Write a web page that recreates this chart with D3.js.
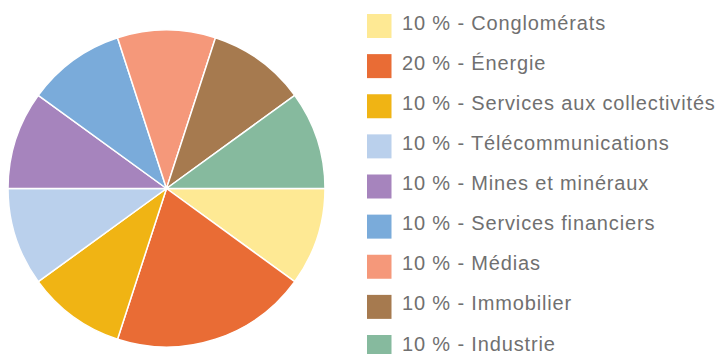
<!DOCTYPE html>
<html>
<head>
<meta charset="utf-8">
<script src="https://cdn.jsdelivr.net/npm/d3@7"></script>
<style>
  html, body { margin: 0; padding: 0; background: #fff; }
  svg { display: block; }
</style>
</head>
<body>
<svg id="chart" width="718" height="354"></svg>
<script>
// Répartition par secteur
const sectors = [
  "Conglomérats",
  "Énergie",
  "Services aux collectivités",
  "Télécommunications",
  "Mines et minéraux",
  "Services financiers",
  "Médias",
  "Immobilier",
  "Industrie"
];
const shares = [10, 20, 10, 10, 10, 10, 10, 10, 10];
const palette = [
  "#fee994", "#e96c35", "#f0b414", "#bad0ec", "#a684bd",
  "#7aabda", "#f5987a", "#a67a4f", "#86ba9e"
];

const data = sectors.map((name, i) => ({ name, value: shares[i], color: palette[i] }));

const svg = d3.select("#chart");

const cx = 166.5, cy = 188.5, radius = 158.5;

const pie = d3.pie()
  .value(d => d.value)
  .sort(null)
  .startAngle(Math.PI / 2)
  .endAngle(Math.PI / 2 + 2 * Math.PI);

const arc = d3.arc().innerRadius(0).outerRadius(radius);

svg.append("g")
  .attr("transform", `translate(${cx},${cy})`)
  .selectAll("path")
  .data(pie(data))
  .join("path")
  .attr("d", arc)
  .attr("fill", d => d.data.color)
  .attr("stroke", "#ffffff")
  .attr("stroke-width", 1.5)
  .attr("stroke-linejoin", "round");

// Légende
const rowY = d3.scalePoint()
  .domain(sectors)
  .range([26, 347]);

const legend = svg.append("g")
  .selectAll("g")
  .data(data)
  .join("g")
  .attr("transform", d => `translate(367,${rowY(d.name)})`);

legend.append("rect")
  .attr("x", 0)
  .attr("y", -12)
  .attr("width", 24.5)
  .attr("height", 24)
  .attr("fill", d => d.color);

legend.append("text")
  .attr("x", 35)
  .attr("y", 3.5)
  .attr("font-family", "Liberation Sans, Arial, Helvetica, sans-serif")
  .attr("font-size", 20)
  .attr("letter-spacing", 0.85)
  .attr("fill", "#707070")
  .text(d => `${d.value} % - ${d.name}`);
</script>
</body>
</html>
